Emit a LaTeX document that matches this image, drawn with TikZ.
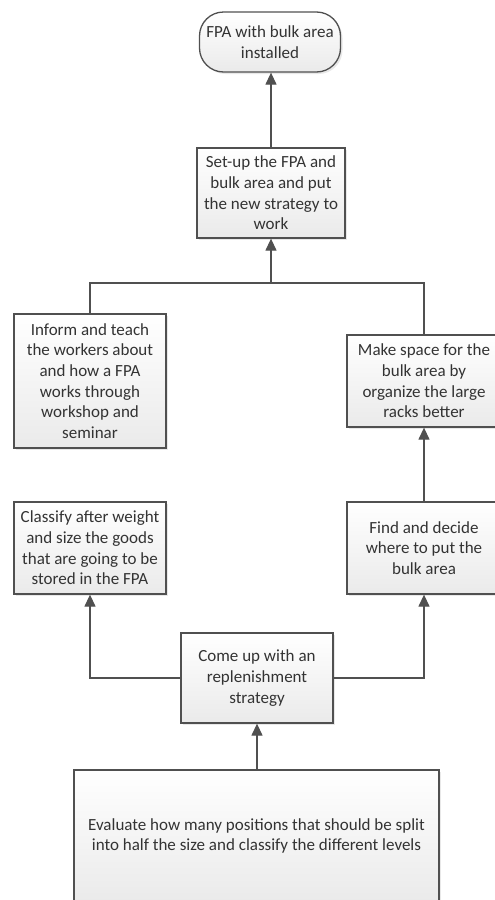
\documentclass[tikz,border=0pt]{standalone}
\usepackage{fontspec}
\setmainfont{Carlito}
\usetikzlibrary{arrows.meta,shadows}

\definecolor{edge}{HTML}{505050}
\definecolor{ink}{HTML}{333333}
\definecolor{boxlow}{HTML}{EAEAEA}

\tikzset{
  stepbox/.style={draw=edge, line width=1.3pt, top color=white, bottom color=boxlow,
    text=ink, align=center, inner sep=2pt,
    font=\fontsize{17}{20.6}\selectfont,
    drop shadow={opacity=0.18, shadow xshift=2pt, shadow yshift=-2pt}},
  endbox/.style={stepbox, rounded corners=24pt},
  link/.style={draw=edge, line width=1.3pt},
  flow/.style={link, -{Triangle[width=11pt,length=12pt]}}
}

\begin{document}
\begin{tikzpicture}[x=1pt,y=-1pt]
\clip (0,0) rectangle (495,900);
\fill[white] (0,0) rectangle (495,900);

\node[endbox, minimum width=141pt, minimum height=60pt] (done) at (270,42)
  {FPA with bulk area\\installed};
\node[stepbox, minimum width=148pt, minimum height=90pt] (setup) at (271,193)
  {Set-up the FPA and\\bulk area and put\\the new strategy to\\work};
\node[stepbox, minimum width=152pt, minimum height=134pt] (inform) at (90,381)
  {Inform and teach\\the workers about\\and how a FPA\\works through\\workshop and\\seminar};
\node[stepbox, minimum width=154pt, minimum height=92pt] (space) at (424,381)
  {Make space for the\\bulk area by\\organize the large\\racks better};
\node[stepbox, minimum width=152pt, minimum height=92pt] (classify) at (90,548)
  {Classify after weight\\and size the goods\\that are going to be\\stored in the FPA};
\node[stepbox, minimum width=154pt, minimum height=92pt] (find) at (424,548)
  {Find and decide\\where to put the\\bulk area};
\node[stepbox, minimum width=152pt, minimum height=90pt] (strategy) at (257,678)
  {Come up with an\\replenishment\\strategy};
\node[stepbox, minimum width=365pt, minimum height=132pt] (evaluate) at (256.5,836)
  {Evaluate how many positions that should be split\\into half the size and classify the different levels};

\coordinate (join) at (271,283);

\draw[flow] (setup.north) -- (setup.north |- done.south);
\draw[link] (inform.north) |- (join) -| (space.north);
\draw[flow] (join) -- (setup.south);
\draw[flow] (find.north) -- (space.south);
\draw[flow] (strategy.west) -| (classify.south);
\draw[flow] (strategy.east) -| (find.south);
\draw[flow] (evaluate.north -| strategy.south) -- (strategy.south);
\end{tikzpicture}
\end{document}
